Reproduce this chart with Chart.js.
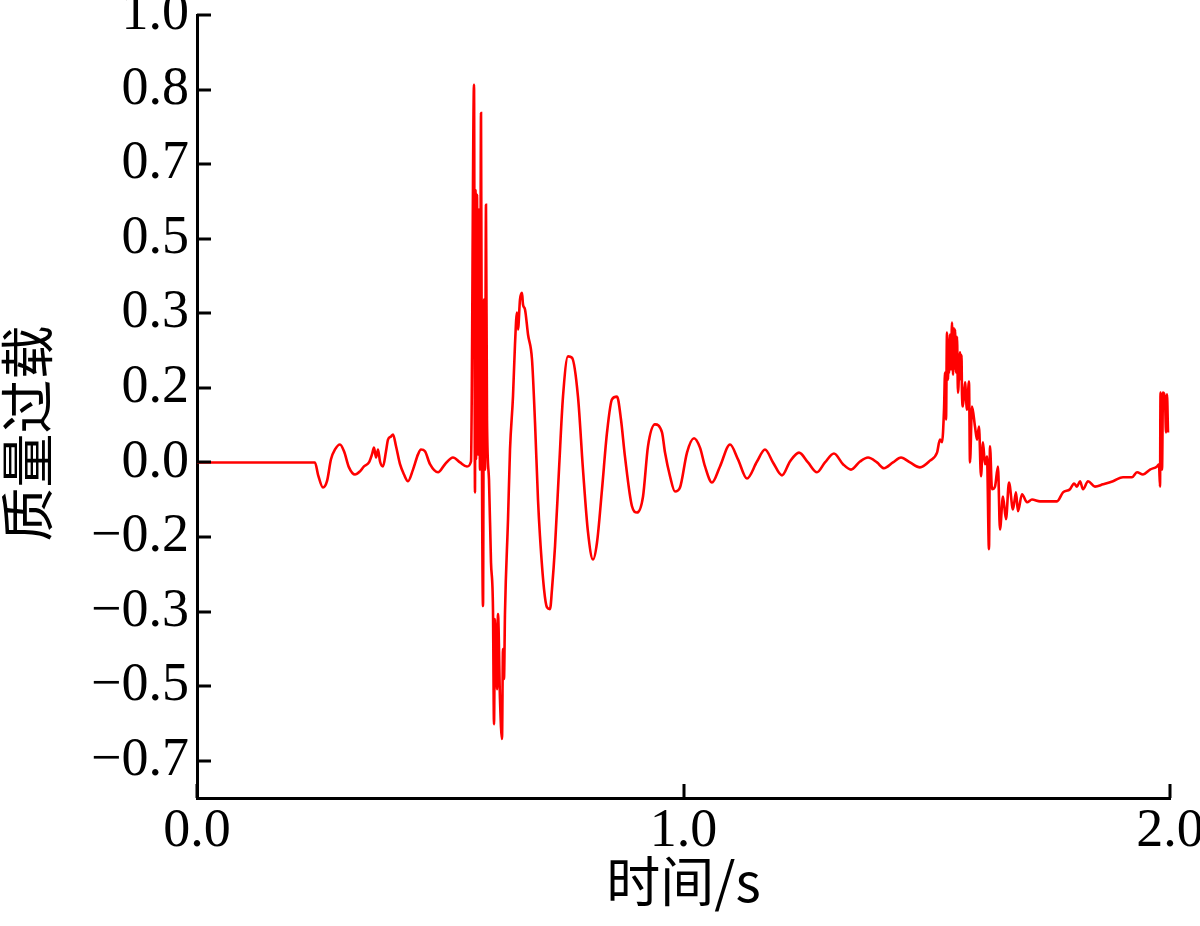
<!DOCTYPE html>
<html>
<head>
<meta charset="utf-8">
<script src="https://cdn.jsdelivr.net/npm/chart.js@4"></script>
<style>
  html, body { margin: 0; padding: 0; background: #ffffff; }
  #wrap { width: 1200px; height: 926px; }
</style>
</head>
<body>
<div id="wrap"><canvas id="c" width="1200" height="926"></canvas></div>
<script>
// ---- Data ----
const timeS = [
  0.000, 0.2425, 0.2487, 0.2590, 0.2672, 0.2754, 0.2837, 0.2939, 0.3022, 0.3124,
  0.3248, 0.3350, 0.3433, 0.3535, 0.3597, 0.3638, 0.3680, 0.3721, 0.3762, 0.3823,
  0.3885, 0.3926, 0.3988, 0.4029, 0.4091, 0.4173, 0.4255, 0.4337, 0.4440, 0.4543,
  0.4604, 0.4686, 0.4789, 0.4954, 0.5098, 0.5262, 0.5406, 0.5550, 0.5632, 0.5694,
  0.5714, 0.5725, 0.5735, 0.5755, 0.5776, 0.5796, 0.5817, 0.5838, 0.5858, 0.5879,
  0.5899, 0.5920, 0.5940, 0.5961, 0.6002, 0.6043, 0.6084, 0.6105, 0.6125, 0.6166,
  0.6187, 0.6228, 0.6269, 0.6290, 0.6310, 0.6331, 0.6393, 0.6434, 0.6495, 0.6536,
  0.6577, 0.6598, 0.6639, 0.6680, 0.6701, 0.6742, 0.6804, 0.6886, 0.6948, 0.7009,
  0.7050, 0.7133, 0.7194, 0.7256, 0.7297, 0.7359, 0.7441, 0.7523, 0.7626, 0.7708,
  0.7831, 0.7934, 0.8037, 0.8140, 0.8222, 0.8325, 0.8428, 0.8530, 0.8633, 0.8715,
  0.8797, 0.8941, 0.9044, 0.9168, 0.9270, 0.9414, 0.9558, 0.9620, 0.9723, 0.9825,
  0.9928, 1.0072, 1.0216, 1.0339, 1.0442, 1.0586, 1.0750, 1.0956, 1.1120, 1.1305,
  1.1511, 1.1675, 1.1840, 1.2025, 1.2189, 1.2374, 1.2559, 1.2744, 1.2908, 1.3093,
  1.3279, 1.3443, 1.3628, 1.3793, 1.3977, 1.4121, 1.4306, 1.4471, 1.4656, 1.4861,
  1.5067, 1.5211, 1.5272, 1.5314, 1.5355, 1.5376, 1.5396, 1.5416, 1.5437, 1.5447,
  1.5458, 1.5478, 1.5499, 1.5519, 1.5540, 1.5560, 1.5570, 1.5581, 1.5601, 1.5622,
  1.5642, 1.5683, 1.5704, 1.5714, 1.5725, 1.5745, 1.5786, 1.5827, 1.5868, 1.5889,
  1.5930, 1.5992, 1.6033, 1.6074, 1.6115, 1.6156, 1.6197, 1.6238, 1.6279, 1.6300,
  1.6341, 1.6403, 1.6464, 1.6505, 1.6567, 1.6629, 1.6690, 1.6773, 1.6834, 1.6875,
  1.6958, 1.7061, 1.7163, 1.7328, 1.7533, 1.7677, 1.7801, 1.7944, 1.8027, 1.8088,
  1.8150, 1.8212, 1.8315, 1.8458, 1.8623, 1.8828, 1.9034, 1.9219, 1.9322, 1.9445,
  1.9589, 1.9733, 1.9774, 1.9795, 1.9805, 1.9836, 1.9856, 1.9897, 1.9918, 1.9938,
  1.9959
];
const massOverload = [
  0.000, 0.000, -0.027, -0.056, -0.042, 0.007, 0.029, 0.040, 0.025, -0.011,
  -0.027, -0.020, -0.009, 0.000, 0.018, 0.033, 0.011, 0.029, 0.002, -0.009,
  0.025, 0.051, 0.058, 0.0625, 0.036, -0.004, -0.027, -0.042, -0.016, 0.018,
  0.029, 0.025, -0.004, -0.022, -0.004, 0.011, 0.000, -0.009, 0.002, 0.844,
  -0.067, 0.609, 0.007, 0.598, 0.018, 0.565, -0.016, 0.781, -0.016, -0.321,
  0.364, -0.016, 0.576, 0.096, -0.038, -0.223, -0.328, -0.585, -0.350, -0.507,
  -0.339, -0.529, -0.618, -0.417, -0.484, -0.335, -0.127, 0.029, 0.147, 0.263,
  0.335, 0.297, 0.364, 0.379, 0.353, 0.342, 0.286, 0.230, 0.089, -0.083,
  -0.165, -0.283, -0.324, -0.328, -0.283, -0.1875, -0.016, 0.147, 0.237, 0.234,
  0.147, -0.016, -0.156, -0.217, -0.179, -0.060, 0.067, 0.141, 0.147, 0.096,
  0.013, -0.098, -0.112, -0.076, 0.036, 0.085, 0.067, 0.022, -0.031, -0.065,
  -0.056, 0.022, 0.054, 0.033, -0.009, -0.045, -0.009, 0.040, 0.007, -0.036,
  0.002, 0.029, 0.000, -0.029, 0.002, 0.022, 0.000, -0.022, 0.000, 0.020,
  -0.004, -0.016, 0.002, 0.011, 0.000, -0.013, 0.000, 0.011, 0.000, -0.011,
  0.004, 0.022, 0.051, 0.045, 0.118, 0.201, 0.096, 0.290, 0.185, 0.270,
  0.200, 0.286, 0.208, 0.3125, 0.196, 0.300, 0.210, 0.297, 0.201, 0.281,
  0.156, 0.246, 0.185, 0.240, 0.150, 0.125, 0.179, 0.118, 0.181, 0.000,
  0.125, 0.080, 0.051, 0.080, -0.031, 0.045, -0.004, 0.013, -0.194, 0.036,
  -0.060, -0.054, -0.009, -0.150, -0.076, -0.127, -0.045, -0.105, -0.067, -0.109,
  -0.071, -0.089, -0.083, -0.087, -0.087, -0.087, -0.067, -0.060, -0.047, -0.054,
  -0.042, -0.060, -0.042, -0.054, -0.049, -0.042, -0.033, -0.033, -0.022, -0.027,
  -0.016, -0.009, -0.004, -0.054, 0.156, -0.016, 0.156, 0.141, 0.067, 0.152,
  0.067
];
const yTickValues = [-4/6, -3/6, -2/6, -1/6, 0, 1/6, 2/6, 3/6, 4/6, 5/6, 1];
const yTickLabels = ['\u22120.7', '\u22120.5', '\u22120.3', '\u22120.2', '0.0', '0.2', '0.3', '0.5', '0.7', '0.8', '1.0'];
const xTickValues = [0, 1, 2];
const xTickLabels = ['0.0', '1.0', '2.0'];
const xTitle = '时间/s';
const yTitle = '质量过载';

// ---- build chart ----
const points = timeS.map((t, i) => ({ x: t, y: massOverload[i] }));

const inwardTicks = {
  id: 'inwardTicks',
  afterDraw(chart) {
    const ctx = chart.ctx;
    const area = chart.chartArea;
    const xs = chart.scales.x, ys = chart.scales.y;
    const len = 14;
    ctx.save();
    ctx.strokeStyle = '#000000';
    ctx.lineWidth = 3;
    ctx.beginPath();
    ys.ticks.forEach(t => {
      const py = Math.round(ys.getPixelForValue(t.value));
      ctx.moveTo(area.left, py);
      ctx.lineTo(area.left + len, py);
    });
    xs.ticks.forEach(t => {
      const px = Math.round(xs.getPixelForValue(t.value));
      ctx.moveTo(px, area.bottom);
      ctx.lineTo(px, area.bottom - len);
    });
    ctx.stroke();
    ctx.restore();
  }
};

const tickFont = { family: "'Liberation Serif', 'Times New Roman', serif", size: 54 };
const titleFont = { family: "'Noto Sans CJK SC', sans-serif", size: 54, lineHeight: 1.0 };

new Chart(document.getElementById('c'), {
  type: 'scatter',
  data: {
    datasets: [{
      data: points,
      showLine: true,
      borderColor: '#ff0000',
      backgroundColor: '#ff0000',
      borderWidth: 2.6,
      pointRadius: 0,
      cubicInterpolationMode: 'monotone',
      fill: false
    }]
  },
  options: {
    responsive: false,
    animation: false,
    devicePixelRatio: 1,
    layout: { padding: { top: 15, right: 30, left: 0, bottom: 0 } },
    plugins: { legend: { display: false }, tooltip: { enabled: false } },
    scales: {
      x: {
        type: 'linear',
        min: 0, max: 2,
        afterBuildTicks: s => { s.ticks = xTickValues.map(v => ({ value: v })); },
        afterFit: s => { s.height = 128; s.paddingLeft = 0; s.paddingRight = 0; },
        ticks: {
          color: '#000000', font: tickFont, padding: 1, maxRotation: 0, autoSkip: false,
          callback: (v, i) => xTickLabels[i]
        },
        grid: { display: false, drawTicks: false },
        border: { display: true, color: '#000000', width: 3 },
        title: { display: true, text: xTitle, color: '#000000', font: titleFont, padding: { top: 0, bottom: 18 } }
      },
      y: {
        type: 'linear',
        min: -0.75, max: 1.0,
        afterBuildTicks: s => { s.ticks = yTickValues.map(v => ({ value: v })); },
        afterFit: s => { s.width = 197; s.paddingTop = 0; s.paddingBottom = 0; },
        ticks: {
          color: '#000000', font: tickFont, padding: 8, autoSkip: false,
          callback: (v, i) => yTickLabels[i]
        },
        grid: { display: false, drawTicks: false },
        border: { display: true, color: '#000000', width: 3 },
        title: { display: true, text: yTitle + '\u3000', color: '#000000', font: titleFont, padding: { top: 0, bottom: 0 } }
      }
    }
  },
  plugins: [inwardTicks]
});
</script>
</body>
</html>
